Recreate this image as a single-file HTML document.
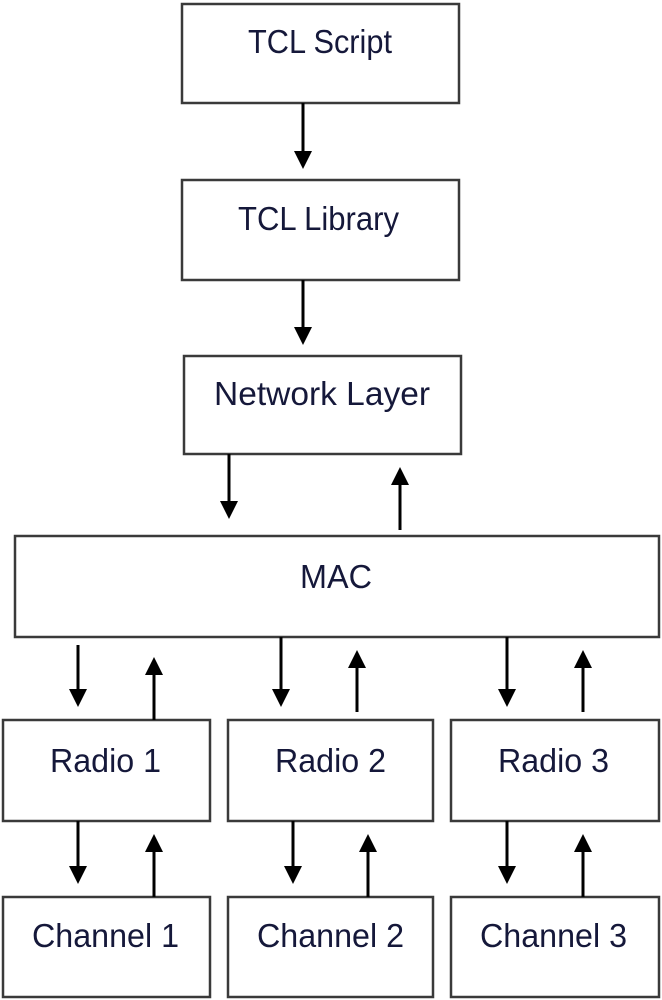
<!DOCTYPE html>
<html><head><meta charset="utf-8"><style>html,body{margin:0;padding:0;background:#fff}svg{display:block}</style></head><body>
<svg width="662" height="1000" viewBox="0 0 662 1000" xmlns="http://www.w3.org/2000/svg">
<defs><marker id="a" markerWidth="6" markerHeight="6" refX="5" refY="3" orient="auto" markerUnits="strokeWidth"><path d="M0,0 L6,3 L0,6 z" fill="#000"/></marker></defs>
<g fill="#fff" stroke="#3a3a3a" stroke-width="2.5">
<rect x="182" y="4" width="277" height="99"/>
<rect x="182" y="180" width="277" height="100"/>
<rect x="184" y="356" width="277" height="98"/>
<rect x="15" y="536" width="644" height="101"/>
<rect x="3" y="720" width="207" height="101"/>
<rect x="228" y="720" width="205" height="101"/>
<rect x="451" y="720" width="208" height="101"/>
<rect x="3" y="897" width="207" height="100"/>
<rect x="228" y="897" width="205" height="100"/>
<rect x="451" y="897" width="208" height="100"/>
</g>
<g stroke="#000" stroke-width="3" marker-end="url(#a)">
<line x1="303" y1="103" x2="303" y2="166"/>
<line x1="303" y1="280" x2="303" y2="342"/>
<line x1="229" y1="454" x2="229" y2="516"/>
<line x1="400" y1="530" x2="400" y2="470"/>
<line x1="78" y1="645" x2="78" y2="704"/>
<line x1="154" y1="720" x2="154" y2="660"/>
<line x1="281" y1="637" x2="281" y2="704"/>
<line x1="357" y1="712" x2="357" y2="653"/>
<line x1="507" y1="637" x2="507" y2="704"/>
<line x1="583" y1="712" x2="583" y2="653"/>
<line x1="78" y1="821" x2="78" y2="881"/>
<line x1="154" y1="897" x2="154" y2="837"/>
<line x1="293" y1="821" x2="293" y2="881"/>
<line x1="368" y1="897" x2="368" y2="837"/>
<line x1="507" y1="821" x2="507" y2="881"/>
<line x1="583" y1="897" x2="583" y2="837"/>
</g>
<g font-family="Liberation Sans, sans-serif" font-size="33" fill="#15183a" lengthAdjust="spacingAndGlyphs">
<text x="248" y="53" textLength="144" lengthAdjust="spacingAndGlyphs">TCL Script</text>
<text x="238" y="230" textLength="161" lengthAdjust="spacingAndGlyphs">TCL Library</text>
<text x="214" y="405" textLength="216" lengthAdjust="spacingAndGlyphs">Network Layer</text>
<text x="300" y="588" textLength="72" lengthAdjust="spacingAndGlyphs">MAC</text>
<text x="50" y="772" textLength="111" lengthAdjust="spacingAndGlyphs">Radio 1</text>
<text x="275" y="772" textLength="111" lengthAdjust="spacingAndGlyphs">Radio 2</text>
<text x="498" y="772" textLength="111" lengthAdjust="spacingAndGlyphs">Radio 3</text>
<text x="32" y="947" textLength="147" lengthAdjust="spacingAndGlyphs">Channel 1</text>
<text x="257" y="947" textLength="147" lengthAdjust="spacingAndGlyphs">Channel 2</text>
<text x="480" y="947" textLength="147" lengthAdjust="spacingAndGlyphs">Channel 3</text>
</g>
</svg>
</body></html>
